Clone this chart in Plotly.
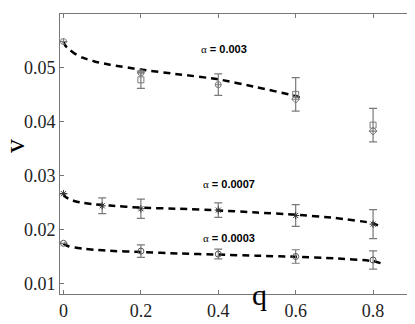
import plotly.graph_objects as go

# alpha = 0.003 : measured points (three symbol sets) and fit
q_003_circ = [0, 0.2, 0.4]
v_003_circ = [0.0548, 0.0490, 0.0468]
e_003_circ = [0, 0, 0.0020]
q_003_sq = [0.2, 0.6, 0.8]
v_003_sq = [0.0477, 0.0450, 0.0393]
e_003_sq = [0.0016, 0.0031, 0.0031]
q_003_dia = [0.6, 0.8]
v_003_dia = [0.0441, 0.0382]
fit_003_q = [0, 0.005, 0.015, 0.03, 0.05, 0.08, 0.12, 0.2, 0.3, 0.4, 0.5, 0.6, 0.61]
fit_003_v = [0.0548, 0.0540, 0.0533, 0.0525, 0.0518, 0.0511, 0.0505, 0.0496, 0.0487, 0.0478, 0.0463, 0.0447, 0.0444]

# alpha = 0.0007
q_0007 = [0, 0.1, 0.2, 0.4, 0.6, 0.8]
v_0007 = [0.0266, 0.02435, 0.0238, 0.02355, 0.02255, 0.02095]
e_0007 = [0, 0.00145, 0.0018, 0.00135, 0.0020, 0.0027]
fit_0007_q = [0, 0.005, 0.015, 0.03, 0.05, 0.08, 0.12, 0.2, 0.3, 0.4, 0.5, 0.6, 0.7, 0.8, 0.825]
fit_0007_v = [0.0266, 0.0260, 0.0256, 0.0252, 0.0249, 0.0246, 0.0244, 0.0240, 0.0238, 0.0235, 0.0231, 0.0227, 0.0221, 0.0211, 0.0203]

# alpha = 0.0003
q_0003 = [0, 0.2, 0.4, 0.6, 0.8]
v_0003 = [0.0174, 0.01595, 0.0154, 0.01495, 0.0143]
e_0003 = [0, 0.00115, 0.0009, 0.00125, 0.0017]
fit_0003_q = [0, 0.005, 0.015, 0.03, 0.05, 0.08, 0.12, 0.2, 0.3, 0.4, 0.5, 0.6, 0.7, 0.8, 0.825]
fit_0003_v = [0.0174, 0.0171, 0.0168, 0.0166, 0.0164, 0.0162, 0.0160, 0.0158, 0.0155, 0.0153, 0.0151, 0.0149, 0.0146, 0.0141, 0.0136]

labels = ["0.003", "0.0007", "0.0003"]
label_q = [0.35, 0.355, 0.355]
label_v = [0.0535, 0.0283, 0.01845]

x_ticks = [0, 0.2, 0.4, 0.6, 0.8]
y_ticks = [0.01, 0.02, 0.03, 0.04, 0.05]

GRAY = "#7a7a7a"
DARK = "#333333"

fig = go.Figure()

def errs(q, v, e, symbol, color, size=6):
    fig.add_trace(go.Scatter(
        x=q, y=v, mode="markers",
        marker=dict(symbol=symbol, size=size, color=color, line=dict(width=1, color=color)),
        error_y=dict(type="data", array=e, visible=True, color=GRAY, thickness=1.2, width=4),
        showlegend=False))

def fit(q, v):
    fig.add_trace(go.Scatter(
        x=q, y=v, mode="lines", line=dict(color="black", width=2.5, dash="7px,5px", shape="spline", smoothing=0.6),
        showlegend=False))

# dashed fits first, points on top
fit(fit_003_q, fit_003_v)
fit(fit_0007_q, fit_0007_v)
fit(fit_0003_q, fit_0003_v)

errs(q_003_circ, v_003_circ, e_003_circ, "circle-cross-open", GRAY)
errs(q_003_sq, v_003_sq, e_003_sq, "square-open", GRAY)
errs(q_003_dia, v_003_dia, [0, 0], "diamond-open", GRAY)
errs(q_0007, v_0007, e_0007, "asterisk-open", DARK, 6)
errs(q_0003, v_0003, e_0003, "circle-open", "#555555", 6)

for lab, lq, lv in zip(labels, label_q, label_v):
    fig.add_annotation(
        x=lq, y=lv, xref="x", yref="y", xanchor="left", yanchor="middle", showarrow=False,
        text="<span style='font-family:Liberation Serif'>α</span><b> = " + lab + "</b>",
        font=dict(family="Liberation Sans, Arial", size=11, color="black"))

# axis titles placed as in the original
fig.add_annotation(x=0.506, y=0.0, xref="x", yref="paper", xanchor="center", yanchor="middle", showarrow=False,
                   text="q", font=dict(family="Liberation Serif", size=30, color="black"))
fig.add_annotation(x=-0.13, y=0.53, xref="paper", yref="paper", xanchor="center", yanchor="middle",
                   showarrow=False, textangle=-90, borderpad=0,
                   text="v", font=dict(family="Liberation Serif", size=28, color="black"))

axis_common = dict(
    showline=True, linecolor="#777777", linewidth=1, mirror="ticks",
    ticks="inside", ticklen=4, tickcolor="#777777", showgrid=False, zeroline=False,
    tickfont=dict(family="Liberation Serif", size=18, color="#222222"))

fig.update_xaxes(range=[-0.009, 0.898], tickvals=x_ticks, ticktext=["0", "0.2", "0.4", "0.6", "0.8"], **axis_common)
fig.update_yaxes(range=[0.008, 0.0599], tickvals=y_ticks, ticktext=["0.01", "0.02", "0.03", "0.04", "0.05"], **axis_common)

# the page body adds an 8px offset, so the figure is drawn 8px smaller
fig.update_layout(
    width=407, height=316,
    margin=dict(l=52, r=3, t=6, b=24),
    paper_bgcolor="white", plot_bgcolor="white")

fig.write_html("out.html")
